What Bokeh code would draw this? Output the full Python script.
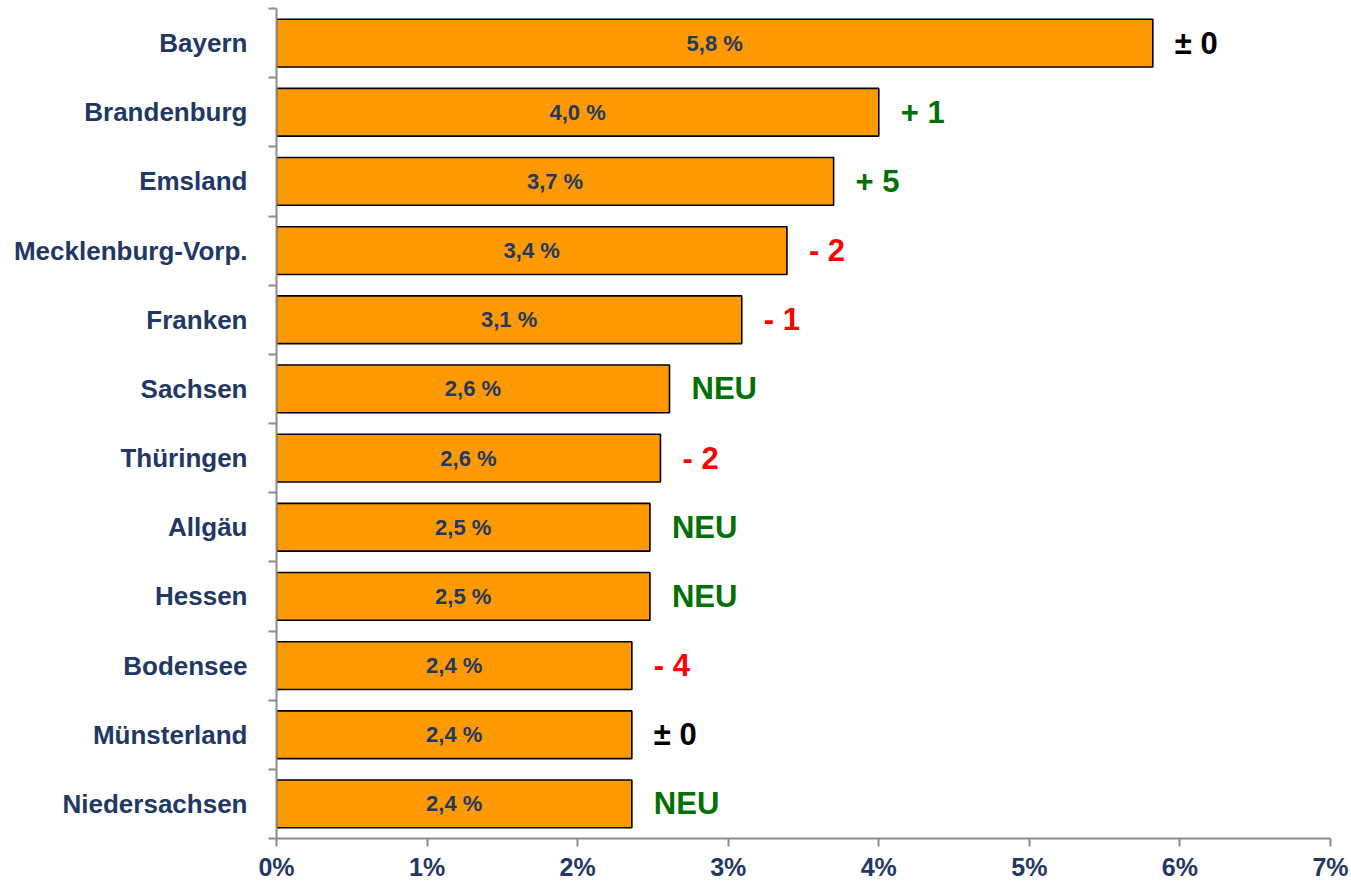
from bokeh.plotting import figure
from bokeh.models import ColumnDataSource, FixedTicker, Range1d
from bokeh.core.properties import value
from bokeh.embed import file_html
from bokeh.resources import INLINE

categories = ["Bayern", "Brandenburg", "Emsland", "Mecklenburg-Vorp.", "Franken", "Sachsen",
              "Thüringen", "Allgäu", "Hessen", "Bodensee", "Münsterland", "Niedersachsen"]
shares = [5.82, 4.00, 3.70, 3.39, 3.09, 2.61, 2.55, 2.48, 2.48, 2.36, 2.36, 2.36]
share_labels = ["5,8 %", "4,0 %", "3,7 %", "3,4 %", "3,1 %", "2,6 %", "2,6 %", "2,5 %",
                "2,5 %", "2,4 %", "2,4 %", "2,4 %"]
changes = ["± 0", "+ 1", "+ 5", "- 2", "- 1", "NEU", "- 2", "NEU", "NEU", "- 4", "± 0", "NEU"]
x_ticks = [0, 1, 2, 3, 4, 5, 6, 7]

FONT = "'Liberation Sans Narrow', 'Arial Narrow', 'Liberation Sans', sans-serif"
BLUE = "#1F3864"
GREEN = "#007000"
RED = "#FF0000"

n = len(categories)
ypos = [n - 0.5 - i for i in range(n)]

def change_color(c):
    if c.startswith("+") or c == "NEU":
        return GREEN
    if c.startswith("-"):
        return RED
    return "black"

src = ColumnDataSource(dict(
    y=ypos, share=shares, mid=[s / 2 for s in shares], lab=share_labels,
    chg=changes, chg_color=[change_color(c) for c in changes],
))

p = figure(width=1351, height=886, output_backend="svg", toolbar_location=None,
           x_range=Range1d(0, 7), y_range=Range1d(0, n),
           min_border_left=276, min_border_right=21, min_border_top=8, min_border_bottom=48)
p.outline_line_color = None
p.xgrid.visible = False
p.ygrid.visible = False

p.hbar(y="y", left=0, right="share", height=0.69, source=src,
       fill_color="#FF9900", line_color="black", line_width=1.6)

p.text(x="mid", y="y", text="lab", source=src, text_align="center", text_baseline="middle",
       text_font=value(FONT), text_font_size="22px", text_font_style="bold", text_color=BLUE)

p.text(x="share", y="y", text="chg", source=src, x_offset=22, text_align="left",
       text_baseline="middle", text_font=value(FONT), text_font_size="31px",
       text_font_style="bold", text_color="chg_color")

# x axis
p.xaxis.ticker = FixedTicker(ticks=x_ticks)
p.xaxis.major_label_overrides = {t: f"{t}%" for t in x_ticks}
p.xaxis.minor_tick_line_color = None
p.xaxis.major_tick_out = 8
p.xaxis.major_tick_in = 0
p.xaxis.axis_line_color = "#8C8C8C"
p.xaxis.major_tick_line_color = "#8C8C8C"
p.xaxis.axis_line_width = 2
p.xaxis.major_tick_line_width = 2
p.xaxis.major_label_text_font = FONT
p.xaxis.major_label_text_font_size = "25px"
p.xaxis.major_label_text_font_style = "bold"
p.xaxis.major_label_text_color = BLUE
p.xaxis.major_label_standoff = 6

# y axis: labels at centers, ticks at boundaries
p.yaxis.ticker = FixedTicker(ticks=ypos, minor_ticks=list(range(n + 1)))
p.yaxis.major_label_overrides = {y: c for y, c in zip(ypos, categories)}
p.yaxis.major_tick_line_color = None
p.yaxis.major_tick_out = 0
p.yaxis.major_tick_in = 0
p.yaxis.minor_tick_out = 8
p.yaxis.minor_tick_in = 0
p.yaxis.minor_tick_line_color = "#8C8C8C"
p.yaxis.minor_tick_line_width = 2
p.yaxis.axis_line_color = "#8C8C8C"
p.yaxis.axis_line_width = 2
p.yaxis.major_label_text_font = FONT
p.yaxis.major_label_text_font_size = "26px"
p.yaxis.major_label_text_font_style = "bold"
p.yaxis.major_label_text_color = BLUE
p.yaxis.major_label_standoff = 21

open("out.html", "w").write(file_html(p, INLINE))
